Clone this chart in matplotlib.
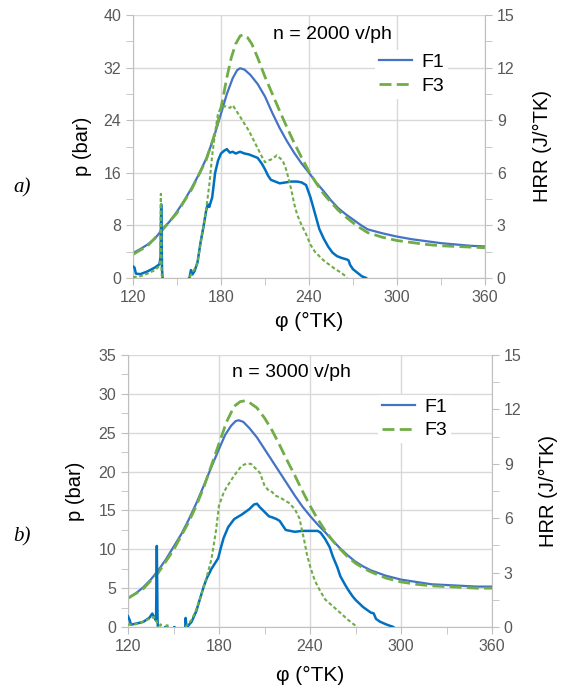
import matplotlib
matplotlib.use('Agg')
import matplotlib.pyplot as plt
from matplotlib.ticker import MultipleLocator

plt.rcParams['font.family'] = ['Liberation Sans', 'DejaVu Sans']

# ---- a) n = 2000 v/ph ----
phi_p1_a = [120, 125, 130, 135, 140, 145, 150, 155, 160, 165, 170, 175, 180, 184, 188, 191, 193, 196,
            200, 205, 210, 215, 220, 225, 230, 235, 240, 245, 250, 255, 260, 265, 270, 275, 280,
            290, 300, 310, 320, 330, 340, 350, 360]
p_f1_a = [3.8, 4.4, 5.1, 6.0, 7.4, 8.6, 10.1, 11.8, 13.7, 15.8, 18.2, 21.3, 25.0, 28.0, 30.4, 31.6, 31.9, 31.7,
          30.9, 29.5, 27.6, 25.1, 22.8, 20.8, 19.0, 17.4, 16.0, 14.5, 13.2, 11.8, 10.6, 9.7, 8.9, 8.1, 7.4,
          6.8, 6.3, 5.9, 5.6, 5.3, 5.1, 4.9, 4.8]
phi_p3_a = [120, 130, 140, 150, 160, 170, 175, 178, 181, 184, 187, 190, 193, 195, 198, 201, 205, 210,
            215, 220, 225, 230, 235, 240, 245, 250, 255, 260, 265, 270, 275, 280, 290, 300, 310, 320,
            330, 340, 350, 360]
p_f3_a = [3.6, 4.9, 7.3, 9.9, 13.5, 18.0, 21.4, 23.8, 27.0, 30.5, 33.5, 35.6, 36.8, 37.0, 36.6, 35.6, 33.5, 30.6,
          28.0, 25.4, 22.9, 20.5, 18.3, 16.2, 14.4, 12.8, 11.5, 10.3, 9.3, 8.4, 7.6, 6.9, 6.2, 5.7, 5.4, 5.1,
          4.9, 4.8, 4.7, 4.6]
phi_h1_a = [120, 121, 122, 125, 130, 135, 138, 138.8, 139.2, 139.8, 140.5, 150, 158.5, 159.5, 160.5, 162,
            164, 166, 168, 170, 171, 172, 174, 176, 178, 180, 182, 184, 186, 188, 190, 193, 196, 199,
            202, 205, 208, 210, 212, 214, 217, 220, 224, 228, 232, 235, 238, 241, 244, 247, 250, 253,
            256, 259, 262, 264, 266, 267, 268, 270, 273, 276, 279, 281]
hrr_f1_a = [0.66, 0.6, 0.25, 0.22, 0.38, 0.6, 0.78, 1.2, 4.2, 0.5, -0.5, -0.5, 0.0, 0.45, 0.2, 0.4,
            0.9, 2.0, 2.9, 3.9, 4.2, 4.05, 4.6, 6.0, 6.7, 7.1, 7.25, 7.35, 7.15, 7.2, 7.1, 7.2, 7.1, 7.05,
            6.95, 6.85, 6.5, 6.2, 5.85, 5.6, 5.5, 5.4, 5.45, 5.5, 5.5, 5.45, 5.3, 4.6, 3.7, 2.8, 2.25, 1.8,
            1.45, 1.25, 1.15, 1.1, 1.05, 1.0, 0.75, 0.5, 0.3, 0.1, 0.0, -0.2]
phi_h3_a = [120, 125, 130, 135, 137, 138.5, 139.0, 139.5, 140.2, 145, 145.5, 146.5, 147, 155, 158.5, 160,
            162, 164, 166, 168, 170, 172, 174, 176, 178, 180, 183, 186, 188, 190, 193, 196, 199, 202,
            205, 208, 210, 212, 214, 216, 218, 220, 222, 224, 226, 228, 230, 232, 235, 238, 241, 244,
            247, 250, 254, 258, 262, 265, 267]
hrr_f3_a = [0.05, 0.1, 0.25, 0.45, 0.6, 0.75, 4.8, 0.3, -0.5, -0.5, 0.0, 0.0, -0.5, -0.5, 0.0, 0.3,
            0.5, 0.9, 1.9, 2.9, 4.0, 5.3, 7.0, 8.3, 9.4, 9.7, 9.8, 9.7, 9.85, 9.6, 9.2, 8.8, 8.4, 7.9,
            7.4, 6.9, 6.6, 6.7, 6.75, 6.85, 7.0, 6.85, 6.7, 6.3, 5.7, 5.0, 4.2, 3.6, 3.0, 2.5, 1.9, 1.5,
            1.25, 1.0, 0.75, 0.5, 0.3, 0.1, -0.2]

# ---- b) n = 3000 v/ph ----
phi_p1_b = [120, 125, 130, 135, 140, 145, 150, 155, 160, 165, 170, 175, 180, 184, 188, 191, 193, 196,
            200, 205, 210, 215, 220, 225, 230, 235, 240, 245, 250, 255, 260, 265, 270, 275, 280,
            290, 300, 310, 320, 330, 340, 350, 360]
p_f1_b = [3.7, 4.3, 5.1, 6.1, 7.3, 8.7, 10.3, 11.9, 13.8, 15.9, 18.2, 20.6, 22.9, 24.7, 25.9, 26.5, 26.6, 26.4,
          25.6, 24.4, 22.9, 21.4, 19.9, 18.4, 16.9, 15.5, 14.3, 13.2, 12.2, 11.1, 10.1, 9.2, 8.4, 7.8, 7.3,
          6.6, 6.1, 5.8, 5.5, 5.4, 5.3, 5.2, 5.2]
phi_p3_b = [120, 130, 140, 150, 160, 165, 170, 175, 180, 185, 190, 194, 197, 200, 205, 210, 215, 220,
            225, 230, 235, 240, 245, 250, 255, 260, 265, 270, 275, 280, 290, 300, 310, 320, 330, 340,
            350, 360]
p_f3_b = [3.7, 4.9, 7.0, 9.9, 13.5, 15.6, 18.0, 20.8, 23.6, 26.4, 28.4, 29.0, 29.1, 28.9, 28.2, 26.9, 25.3, 23.4,
          21.4, 19.5, 17.5, 15.6, 13.9, 12.4, 11.1, 10.0, 9.0, 8.2, 7.6, 7.1, 6.3, 5.8, 5.5, 5.3, 5.2, 5.1,
          5.0, 5.0]
phi_h1_b = [120, 121, 122, 126, 130, 134, 136, 137.5, 138.5, 139.0, 139.5, 140.2, 144, 144.5, 146, 146.5,
            150, 150.5, 152, 157.5, 158, 158.5, 159, 162, 165, 168, 170, 172, 175, 178, 179.5, 181, 183,
            186, 190, 195, 200, 203, 205, 207, 210, 213, 215, 218, 220, 222, 224, 227, 230, 235, 240,
            245, 247, 250, 253, 255, 258, 260, 263, 265, 268, 270, 275, 280, 282, 283.5, 286, 290, 295, 297]
hrr_f1_b = [0.59, 0.4, 0.13, 0.2, 0.28, 0.5, 0.74, 0.5, 0.35, 4.47, 0.3, -0.5, -0.5, 0.0, 0.0, -0.5,
            -0.5, 0.0, -0.1, -0.5, 0.5, 0.1, 0.0, 0.3, 0.87, 1.7, 2.25, 2.7, 3.2, 3.6, 3.8, 4.3, 4.9,
            5.5, 5.95, 6.2, 6.5, 6.75, 6.8, 6.6, 6.35, 6.1, 6.05, 5.95, 5.85, 5.6, 5.35, 5.3, 5.25, 5.3, 5.3,
            5.3, 5.2, 4.85, 4.4, 3.9, 3.3, 2.8, 2.35, 2.07, 1.7, 1.5, 1.1, 0.8, 0.75, 0.45, 0.3, 0.15, 0.0, -0.2]
phi_h3_b = [120, 125, 130, 134, 137, 138.5, 139.5, 140.5, 141.5, 142.5, 145, 145.5, 147.5, 148, 157, 158,
            160, 162, 165, 168, 170, 172, 175, 178, 180, 183, 185, 190, 195, 198, 201, 204, 207, 210,
            213, 215, 217, 220, 223, 226, 230, 233, 236, 238, 240, 243, 245, 248, 250, 255, 260, 265,
            270, 272]
hrr_f3_b = [0.13, 0.15, 0.3, 0.45, 0.55, 0.45, 0.1, -0.3, 0.15, -0.3, -0.5, 0.1, 0.05, -0.5, -0.5, 0.0,
            0.2, 0.4, 0.96, 1.7, 2.25, 2.8, 3.73, 5.3, 6.7, 7.4, 7.7, 8.35, 8.9, 9.0, 9.0, 8.75, 8.5, 7.8,
            7.5, 7.45, 7.25, 7.15, 7.0, 6.85, 6.5, 6.0, 4.85, 4.0, 3.36, 2.6, 2.25, 1.8, 1.52, 1.15, 0.78, 0.4,
            0.07, -0.1]

BLUE_P = '#4472C4'
BLUE_H = '#0070C0'
GREEN = '#70AD47'
GRID = '#D9D9D9'
SPINE = '#BFBFBF'
TICKTXT = '#595959'


def panel(ax, p1, p3, h1, h3, pmax, pstep, title, title_xy, leg_xy, ylab_x, hrr_x, xlab_y):
    ax.plot(p1[0], p1[1], color=BLUE_P, lw=1.6, label='F1')
    ax.plot(p3[0], p3[1], color=GREEN, lw=2.0, dashes=(4.3, 1.9), label='F3')
    ax.set_xlim(120, 360)
    ax.set_ylim(0, pmax)
    ax.xaxis.set_major_locator(MultipleLocator(60))
    ax.xaxis.set_minor_locator(MultipleLocator(30))
    ax.yaxis.set_major_locator(MultipleLocator(pstep))
    ax.yaxis.set_minor_locator(MultipleLocator(pstep / 2))
    ax.grid(True, which='major', color=GRID, lw=1.0)
    ax.set_axisbelow(True)
    for s in ['top', 'right']:
        ax.spines[s].set_visible(False)
    for s in ['left', 'bottom']:
        ax.spines[s].set_color(SPINE)
    ax.tick_params(which='both', direction='out', length=5, color=SPINE,
                   labelcolor=TICKTXT, labelsize=11.5)
    ax.set_ylabel('p (bar)', fontsize=14.5)
    ax.set_xlabel('φ (°TK)', fontsize=15)
    ax.yaxis.set_label_coords(ylab_x, 0.5)
    ax.xaxis.set_label_coords(0.5, xlab_y)
    ax.text(title_xy[0], title_xy[1], title, ha='center', va='center', fontsize=14)
    ax.legend(loc='center left', bbox_to_anchor=leg_xy, frameon=True, facecolor='white',
              edgecolor='none', framealpha=1, fancybox=False, fontsize=14, handlelength=1.7,
              borderpad=0.2, labelspacing=0.3, handletextpad=0.5)

    tw = ax.twinx()
    tw.plot(h1[0], h1[1], color=BLUE_H, lw=1.8)
    tw.plot(h3[0], h3[1], color=GREEN, lw=1.5, dashes=(1.8, 1.2))
    tw.set_ylim(0, 15)
    tw.yaxis.set_major_locator(MultipleLocator(3))
    tw.yaxis.set_minor_locator(MultipleLocator(1.5))
    for s in ['top', 'left', 'bottom']:
        tw.spines[s].set_visible(False)
    tw.spines['right'].set_color(SPINE)
    tw.tick_params(which='both', direction='out', length=5, color=SPINE,
                   labelcolor=TICKTXT, labelsize=11.5)
    tw.set_ylabel('HRR (J/°TK)', fontsize=14.5)
    tw.yaxis.set_label_coords(hrr_x, 0.5)


fig = plt.figure(figsize=(5.64, 6.93), dpi=100)
ax_a = fig.add_axes([133 / 564, 1 - 278 / 693, 352 / 564, 263 / 693])
ax_b = fig.add_axes([128 / 564, 1 - 627 / 693, 364 / 564, 272 / 693])

panel(ax_a, (phi_p1_a, p_f1_a), (phi_p3_a, p_f3_a), (phi_h1_a, hrr_f1_a), (phi_h3_a, hrr_f3_a),
      40, 8, 'n = 2000 v/ph', (256, 37), (0.66, 0.775), -0.116, 1.136, -0.129)
panel(ax_b, (phi_p1_b, p_f1_b), (phi_p3_b, p_f3_b), (phi_h1_b, hrr_f1_b), (phi_h3_b, hrr_f3_b),
      35, 5, 'n = 3000 v/ph', (228, 32.8), (0.66, 0.765), -0.118, 1.129, -0.143)

fig.text(22 / 564, 1 - 188 / 693, 'a)', family='Liberation Serif', style='italic', fontsize=15,
         ha='center', va='center')
fig.text(22 / 564, 1 - 537 / 693, 'b)', family='Liberation Serif', style='italic', fontsize=15,
         ha='center', va='center')

fig.savefig('out.png', dpi=100)
